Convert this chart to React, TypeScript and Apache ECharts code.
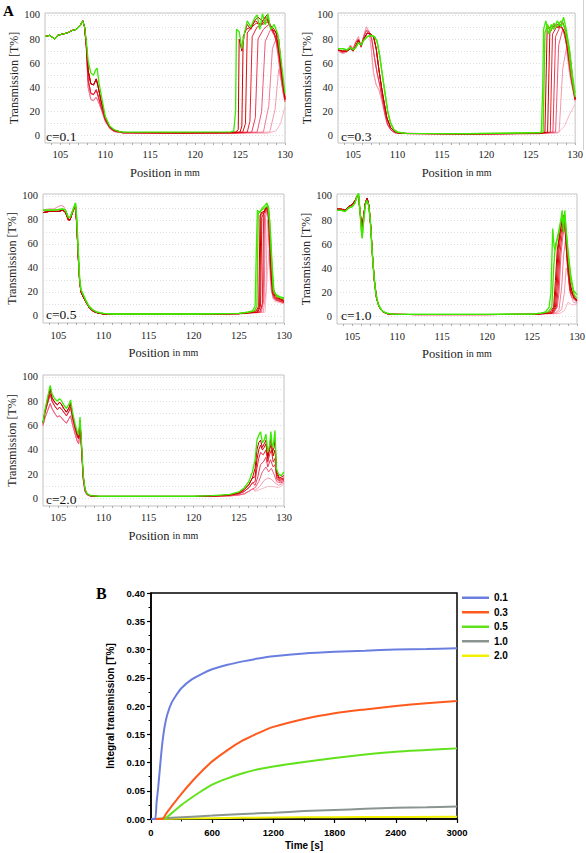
import React, { useEffect, useRef } from "react";
import * as echarts from "echarts";

type Pt = [number, number];

// ---------- Panel A : axis values ----------
const positionMin = 103.3;
const positionMax = 130;
const positionLabels = [105, 110, 115, 120, 125, 130];
const positionMinorTicks = [104, 105, 106, 107, 108, 109, 110, 111, 112, 113, 114, 115, 116, 117, 118, 119, 120, 121, 122, 123, 124, 125, 126, 127, 128, 129, 130];
const transmissionLabels = [0, 20, 40, 60, 80, 100];
const transmissionGridLines = [0, 10, 20, 30, 40, 50, 60, 70, 80, 90, 100];
const concentrationLabels = ["c=0.1", "c=0.3", "c=0.5", "c=1.0", "c=2.0"];

// ---------- c = 0.1 ----------
const c01Lefts: Pt[][] = [
  [[103.3,82],[103.8,83],[104.2,81],[104.4,80],[104.7,83],[105.2,84],[105.8,85],[106.3,87],[106.8,88],[107.2,91],[107.5,95],[107.7,90],[107.9,72],[108.1,40],[108.4,30],[108.7,29],[109,32],[109.3,27],[109.6,21],[110,12],[110.5,6],[111,3.5],[112,2.3],[118,2],[124,2]],
  [[103.3,82],[103.8,83],[104.2,81],[104.4,80],[104.7,83],[105.2,84],[105.8,85],[106.3,87],[106.8,88],[107.2,91],[107.5,95],[107.7,90],[107.9,74],[108.1,46],[108.4,35],[108.7,34],[109,38],[109.25,32],[109.55,24],[110,13],[110.5,6.5],[111,3.8],[112,2.4],[118,2.1],[124,2.2]],
  [[103.3,82],[103.8,83],[104.2,81],[104.4,80],[104.7,83],[105.2,84],[105.8,85],[106.3,87],[106.8,88],[107.2,91],[107.5,95],[107.7,90],[107.9,76],[108.1,54],[108.4,43],[108.7,42],[109,47],[109.2,41],[109.5,30],[110,15],[110.5,7.5],[111,4.5],[112,2.7],[118,2.5],[124,2.7]],
  [[103.3,82],[103.8,83],[104.2,81],[104.4,80],[104.7,83],[105.2,84],[105.8,85],[106.3,87],[106.8,88],[107.2,91],[107.5,95],[107.7,90],[107.9,78],[108.1,62],[108.4,52],[108.7,50],[108.9,54],[109.1,56],[109.3,44],[109.6,32],[110,16],[110.5,8],[111,5],[111.5,3.5],[112,3],[118,3],[124,3.2]],
];
const c01LeftOf = [0, 0, 0, 1, 1, 1, 2, 2, 2, 3];
const c01Rights: Pt[][] = [
  [[128,2],[129,4],[129.5,10],[130,24]],
  [[128.3,3],[128.9,22],[129.3,55],[129.6,45],[130,30]],
  [[127.6,3],[128.2,25],[128.6,72],[129.0,80],[129.4,55],[129.8,35],[130,28]],
  [[126.9,3],[127.4,20],[127.8,78],[128.4,88],[128.9,82],[129.3,65],[129.7,40],[130,28]],
  [[126.3,3],[126.7,15],[127.0,80],[127.6,88],[128.2,92],[128.8,84],[129.3,70],[129.7,45],[130,30]],
  [[125.8,3],[126.1,12],[126.35,82],[126.9,90],[127.5,92],[128.1,94],[128.7,86],[129.2,75],[129.6,50],[130,30]],
  [[125.3,3],[125.6,10],[125.8,85],[126.3,90],[126.8,93],[127.4,92],[128,97],[128.6,88],[129.2,78],[129.6,52],[130,30]],
  [[125,3],[125.2,8],[125.35,82],[125.7,88],[126.2,90],[126.7,95],[127.3,92],[127.8,98],[128.3,92],[128.8,88],[129.3,80],[129.7,50],[130,30]],
  [[124.5,3],[124.8,5],[124.9,80],[125.2,70],[125.5,85],[125.8,92],[126.2,88],[126.6,95],[127,98],[127.5,95],[128,100],[128.5,88],[129,86],[129.5,60],[130,32]],
  [[124.3,4],[124.5,20],[124.6,88],[124.9,86],[125.2,72],[125.5,85],[125.8,95],[126.2,90],[126.6,97],[126.9,100],[127.2,88],[127.5,101],[127.8,92],[128.1,101],[128.4,88],[128.8,92],[129.2,84],[129.6,60],[130,35]],
];

// ---------- c = 0.3 ----------
const c03Lefts: Pt[][] = [
  [[103.3,70],[103.8,68],[104.3,69],[104.7,75],[105.0,72],[105.3,78],[105.6,82],[105.9,73],[106.2,83],[106.5,90],[106.8,86],[107.0,75],[107.3,52],[107.6,42],[107.9,38],[108.2,30],[108.5,20],[108.8,10],[109.2,5],[109.6,3],[110,2],[118,1.5],[126,1.8]],
  [[103.3,71],[103.8,69],[104.3,70],[104.7,74],[105.0,71],[105.3,77],[105.6,80],[105.9,74],[106.2,82],[106.5,87],[106.8,86],[107.1,80],[107.4,65],[107.7,52],[108.0,42],[108.3,30],[108.6,18],[108.9,9],[109.3,4.5],[109.7,2.5],[110.2,2],[118,1.5],[126,1.8]],
  [[103.3,71],[103.8,70],[104.3,70],[104.7,72],[105.0,70],[105.3,74],[105.6,79],[105.9,74],[106.2,80],[106.6,85],[107.0,84],[107.3,82],[107.6,72],[107.9,55],[108.2,40],[108.5,27],[108.8,15],[109.2,7],[109.6,4],[110,2.5],[111,1.8],[118,1.5],[126,2]],
  [[103.3,72],[103.8,72],[104.3,71],[104.7,73],[105.0,71],[105.3,73],[105.6,77],[105.9,75],[106.2,79],[106.6,82],[107.0,83],[107.4,82],[107.7,78],[108.0,66],[108.3,50],[108.6,35],[108.9,20],[109.2,11],[109.6,5],[110,3],[111,2],[118,1.8],[126,2.5]],
];
const c03LeftOf = [0, 0, 1, 1, 2, 2, 2, 3, 3];
const c03Rights: Pt[][] = [
  [[128,2],[128.8,8],[129.4,18],[130,26]],
  [[128.2,3],[128.6,55],[129,72],[129.4,50],[129.8,35],[130,28]],
  [[127.8,3],[128.15,75],[128.6,88],[129,78],[129.4,55],[129.8,38],[130,30]],
  [[127.5,3],[127.8,82],[128.3,90],[128.7,88],[129.1,72],[129.5,50],[130,30]],
  [[127.2,3],[127.45,84],[127.9,90],[128.4,91],[128.8,85],[129.2,68],[129.6,45],[130,30]],
  [[126.9,3],[127.15,85],[127.5,90],[128,92],[128.5,90],[128.9,84],[129.3,65],[129.7,45],[130,30]],
  [[126.6,3],[126.85,88],[127.2,90],[127.6,92],[128.1,89],[128.6,94],[129,85],[129.4,68],[129.8,42],[130,30]],
  [[126.4,3],[126.6,85],[126.9,92],[127.2,86],[127.6,93],[128.0,90],[128.4,95],[128.8,90],[129.2,75],[129.6,50],[130,32]],
  [[126.2,3],[126.35,40],[126.45,88],[126.7,95],[127.0,84],[127.3,92],[127.6,88],[128.0,95],[128.4,90],[128.7,98],[129.0,88],[129.4,70],[129.7,50],[130,35]],
];

// ---------- c = 0.5 ----------
const c05Lefts: Pt[][] = [
  [[103.3,88],[104,89],[104.5,89],[105,91],[105.3,92],[105.6,91],[105.9,86],[106.2,79],[106.4,82],[106.7,88],[106.9,91],[107.05,72],[107.2,48],[107.35,28],[107.5,21],[107.8,16],[108.1,11],[108.4,7],[108.8,4],[109.3,2.5],[110,1.5],[111,1.2],[120,1.2],[125,1.5],[126,2]],
  [[103.3,86],[104,87],[104.5,87],[105,87],[105.5,88],[105.8,86],[106.1,80],[106.3,80],[106.6,87],[106.9,92],[107.05,75],[107.2,50],[107.35,30],[107.5,20],[107.8,15],[108.1,11],[108.4,7],[108.8,4],[109.3,2.5],[110,1.5],[111,1.2],[120,1.2],[125,1.8],[126,2.5]],
  [[103.3,88],[104,88],[104.5,88],[105,88.5],[105.5,89],[105.8,88],[106.1,82],[106.3,82],[106.6,88],[106.9,94],[107.05,80],[107.2,55],[107.35,32],[107.5,22],[107.8,17],[108.1,12],[108.4,8],[108.8,5],[109.3,3],[110,2],[111,1.5],[120,1.5],[125,2],[126,3]],
];
const c05LeftOf = [0, 0, 1, 1, 1, 1, 1, 1, 2, 2];
const c05Rights: Pt[][] = [
  [[127.9,3],[128.2,40],[128.35,55],[128.55,22],[129,12],[130,10]],
  [[127.7,3],[128.0,20],[128.15,80],[128.3,70],[128.5,30],[128.8,14],[130,10]],
  [[127.5,3],[127.8,15],[127.95,82],[128.2,90],[128.4,55],[128.6,22],[129,13],[130,12]],
  [[127.4,3],[127.7,12],[127.85,84],[128.1,89],[128.3,80],[128.5,35],[128.8,15],[130,11]],
  [[127.3,3],[127.6,10],[127.75,85],[128.0,88],[128.25,86],[128.45,45],[128.7,18],[129.2,13],[130,11]],
  [[127.1,3],[127.4,8],[127.55,82],[127.9,88],[128.2,90],[128.4,70],[128.6,30],[129,15],[130,12]],
  [[127.0,3],[127.3,8],[127.45,86],[127.8,87],[128.1,91],[128.35,84],[128.55,42],[128.8,18],[130,12]],
  [[126.9,4],[127.2,8],[127.35,84],[127.7,86],[128.0,90],[128.3,88],[128.5,60],[128.7,25],[129.2,15],[130,13]],
  [[126.7,4],[127.0,8],[127.15,85],[127.5,88],[127.9,90],[128.2,92],[128.4,80],[128.6,50],[128.8,22],[129.2,16],[130,14]],
  [[126.5,4],[126.8,8],[126.95,60],[127.05,88],[127.3,86],[127.6,90],[127.9,92],[128.1,94],[128.3,90],[128.5,70],[128.7,40],[128.9,20],[129.1,18],[129.5,16],[130,15]],
];

// ---------- c = 1.0 ----------
const c10Lefts: Pt[][] = [
  [[103.3,88],[103.8,88],[104.2,88],[104.6,90],[105,92],[105.3,95],[105.55,99],[105.7,99],[105.85,86],[106.0,78],[106.1,76],[106.25,84],[106.45,93],[106.65,96],[106.9,90],[107.1,70],[107.3,45],[107.5,28],[107.75,14],[108,8],[108.4,4],[108.9,2.5],[109.5,2],[112,1.8],[120,1.8],[125,2],[126,2.3]],
  [[103.3,89],[103.8,89],[104.2,88],[104.6,91],[105,93],[105.3,96],[105.55,100],[105.7,100],[105.85,88],[106.0,78],[106.1,74],[106.25,82],[106.45,94],[106.65,98],[106.85,92],[107.05,75],[107.25,50],[107.45,30],[107.7,15],[108,8],[108.4,4],[108.9,2.5],[109.5,2],[112,1.8],[120,1.8],[125,2],[126,2.5]],
  [[103.3,88],[103.8,88],[104.2,87],[104.6,90],[105,91],[105.3,94],[105.55,100],[105.7,102],[105.85,88],[106.0,72],[106.1,65],[106.25,78],[106.45,92],[106.6,96],[106.8,93],[107.0,80],[107.2,55],[107.4,35],[107.6,20],[107.9,10],[108.3,5],[108.8,3],[109.5,2.2],[112,2],[120,2],[125,2.2],[126,3]],
];
const c10LeftOf = [0, 0, 0, 1, 1, 1, 1, 1, 2, 2];
const c10Rights: Pt[][] = [
  [[128.0,2.5],[128.6,5],[129.0,12],[129.4,10],[130,10]],
  [[127.8,3],[128.3,6],[128.6,20],[128.8,40],[129.0,38],[129.2,20],[129.6,12],[130,11]],
  [[127.6,3],[128.0,6],[128.3,25],[128.5,50],[128.7,62],[128.9,50],[129.1,30],[129.4,16],[130,12]],
  [[127.4,3],[127.8,8],[128.0,20],[128.2,50],[128.4,65],[128.6,75],[128.8,60],[129.0,35],[129.3,18],[130,12]],
  [[127.3,3],[127.7,8],[127.9,22],[128.1,52],[128.3,66],[128.5,78],[128.7,70],[128.9,45],[129.2,22],[130,13]],
  [[127.2,3],[127.6,8],[127.8,25],[128.0,55],[128.2,68],[128.4,76],[128.6,80],[128.8,62],[129.0,40],[129.3,20],[130,13]],
  [[127.1,3],[127.5,8],[127.7,28],[127.9,56],[128.1,68],[128.3,78],[128.5,84],[128.7,74],[128.9,50],[129.2,28],[129.6,16],[130,14]],
  [[127.0,4],[127.4,8],[127.6,30],[127.8,55],[128.0,65],[128.2,75],[128.4,80],[128.6,82],[128.8,68],[129.0,45],[129.3,25],[129.7,15],[130,14]],
  [[126.8,4],[127.2,8],[127.4,40],[127.6,60],[127.9,66],[128.1,75],[128.3,82],[128.45,78],[128.6,85],[128.8,72],[129.0,52],[129.3,30],[129.7,18],[130,15]],
  [[126.5,4],[126.9,8],[127.1,20],[127.3,73],[127.45,58],[127.6,55],[127.8,65],[128.0,72],[128.2,80],[128.35,88],[128.5,70],[128.65,88],[128.8,70],[129.0,55],[129.3,35],[129.6,22],[130,18]],
];

// ---------- c = 2.0 ----------
const c20Lefts: Pt[][] = [
  [[103.3,60],[103.5,66],[103.8,72],[104.1,78],[104.3,74],[104.6,70],[104.9,67],[105.1,68],[105.3,67],[105.6,64],[105.9,62],[106.2,66],[106.35,68],[106.6,60],[106.9,52],[107.1,47],[107.25,45],[107.4,55],[107.55,42],[107.75,16],[107.95,6],[108.2,3],[108.6,2],[109.5,1.8],[115,1.8],[120,1.8],[122,1.9],[123,2],[124,2.3],[125,3],[125.6,4],[126.1,6],[126.5,8]],
  [[103.3,62],[103.5,70],[103.8,78],[104.1,86],[104.3,80],[104.6,76],[104.9,73],[105.1,75],[105.3,74],[105.6,71],[105.9,68],[106.2,72],[106.35,75],[106.6,65],[106.9,56],[107.1,51],[107.25,49],[107.4,62],[107.55,45],[107.75,18],[107.95,7],[108.2,3.5],[108.6,2.2],[109.5,1.8],[115,1.8],[120,1.8],[122,2],[123,2.3],[124,2.8],[125,4],[125.6,6],[126.1,9],[126.5,13]],
  [[103.3,62],[103.5,71],[103.8,81],[104.1,90],[104.3,83],[104.6,79],[104.9,77],[105.1,79],[105.3,78],[105.6,74],[105.9,71],[106.2,75],[106.35,78],[106.6,68],[106.9,58],[107.1,53],[107.25,50],[107.4,64],[107.55,46],[107.75,19],[107.95,7.5],[108.2,3.8],[108.6,2.3],[109.5,1.9],[115,1.9],[120,1.9],[122,2.2],[123,2.6],[124,3.1],[125,4.7],[125.6,7.5],[126.1,11.5],[126.5,17]],
  [[103.3,62],[103.5,72],[103.8,83],[104.1,93],[104.3,86],[104.6,82],[104.9,80],[105.1,82],[105.3,81],[105.6,77],[105.9,74],[106.2,78],[106.35,81],[106.6,70],[106.9,60],[107.1,55],[107.25,52],[107.4,67],[107.55,48],[107.75,20],[107.95,8],[108.2,4],[108.6,2.5],[109.5,2],[115,2],[120,2],[122,2.5],[123,3],[124,3.5],[125,5.5],[125.6,9],[126.1,14],[126.5,22]],
];
const c20LeftOf = [0, 0, 0, 1, 1, 2, 2, 3];
const c20Rights: Pt[][] = [
  [[126.8,6],[127.5,8],[128.2,10],[128.8,10],[129.4,9],[130,12]],
  [[126.8,7],[127.3,10],[127.8,15],[128.2,17],[128.6,16],[129.0,13],[129.4,11],[130,13]],
  [[126.8,9],[127.2,14],[127.6,22],[128.0,26],[128.3,22],[128.6,25],[128.9,20],[129.2,14],[129.6,13],[130,14]],
  [[126.8,11],[127.1,18],[127.4,28],[127.7,30],[128.0,34],[128.2,26],[128.5,32],[128.8,26],[129.0,28],[129.2,16],[129.6,14],[130,15]],
  [[126.8,14],[127.0,25],[127.2,33],[127.4,38],[127.7,36],[128.0,40],[128.2,30],[128.4,36],[128.6,40],[128.8,30],[129.0,33],[129.2,18],[129.5,15],[130,16]],
  [[126.8,18],[127.0,32],[127.2,40],[127.4,44],[127.6,40],[127.8,42],[128.0,45],[128.2,33],[128.4,40],[128.6,45],[128.8,35],[129.0,40],[129.2,20],[129.5,16],[130,17]],
  [[126.8,25],[127.0,40],[127.2,46],[127.4,48],[127.6,42],[127.8,45],[128.0,48],[128.2,35],[128.4,42],[128.55,50],[128.7,38],[128.9,42],[129.0,48],[129.2,22],[129.5,17],[130,19]],
  [[126.8,32],[127.0,48],[127.2,52],[127.4,55],[127.6,46],[127.8,48],[128.0,53],[128.2,38],[128.4,44],[128.55,55],[128.7,42],[128.85,46],[129.0,56],[129.15,25],[129.4,20],[129.7,19],[130,22]],
];

// ---------- Panel B ----------
const bNames = ["0.1", "0.3", "0.5", "1.0", "2.0"];
const b01: Pt[] = [[0,0],[38,0],[55,0.03],[70,0.055],[85,0.085],[100,0.115],[115,0.14],[135,0.165],[160,0.185],[200,0.205],[250,0.22],[300,0.232],[400,0.247],[500,0.257],[600,0.265],[750,0.273],[900,0.279],[1050,0.284],[1200,0.288],[1500,0.293],[1800,0.296],[2100,0.298],[2400,0.300],[2700,0.301],[3000,0.302]];
const b03: Pt[] = [[0,0],[110,0],[150,0.01],[200,0.022],[300,0.045],[400,0.066],[500,0.085],[600,0.102],[750,0.122],[900,0.139],[1050,0.152],[1200,0.163],[1500,0.177],[1800,0.187],[2100,0.194],[2400,0.2],[2700,0.205],[3000,0.209]];
const b05: Pt[] = [[0,0],[120,0],[200,0.01],[300,0.025],[400,0.038],[500,0.05],[600,0.061],[750,0.072],[900,0.081],[1050,0.088],[1200,0.093],[1500,0.101],[1800,0.108],[2100,0.114],[2400,0.119],[2700,0.122],[3000,0.125]];
const b10: Pt[] = [[0,0],[100,0.001],[300,0.003],[600,0.006],[900,0.009],[1200,0.011],[1500,0.014],[1800,0.016],[2100,0.018],[2400,0.02],[2700,0.021],[3000,0.022]];
const b20: Pt[] = [[0,0],[300,0.001],[900,0.002],[1500,0.003],[2100,0.0035],[3000,0.004]];
const bSeriesData = [b01, b03, b05, b10, b20];

// ---------- styles / layout ----------
const bColors = ["#6a7ee0", "#ff5a1e", "#62e21c", "#8a9590", "#f2f200"];
const redScale = ["#f9b8c6", "#f598ad", "#f27a94", "#ee5a78", "#ea3a55", "#e52233", "#df1010", "#d40000", "#c40000"];
const greenScale = ["#5cd400", "#3aea00"];
const serif = "Liberation Serif";
const sans = "Liberation Sans";

// labelsByGraphic: middle-row panels carry their position labels as text elements
const panelLayouts = [
  { left: 45, top: 13, width: 240, height: 130, cx: 46, cy: 136, greens: 1, labelsByGraphic: false },
  { left: 338, top: 13, width: 239, height: 130, cx: 341, cy: 136, greens: 2, labelsByGraphic: false },
  { left: 43, top: 194, width: 241, height: 129, cx: 46, cy: 314, greens: 2, labelsByGraphic: true },
  { left: 337, top: 194, width: 240, height: 130, cx: 341, cy: 315, greens: 2, labelsByGraphic: true },
  { left: 43, top: 375, width: 241, height: 131, cx: 46, cy: 499, greens: 1, labelsByGraphic: false },
];

const panelData = [
  { lefts: c01Lefts, leftOf: c01LeftOf, rights: c01Rights },
  { lefts: c03Lefts, leftOf: c03LeftOf, rights: c03Rights },
  { lefts: c05Lefts, leftOf: c05LeftOf, rights: c05Rights },
  { lefts: c10Lefts, leftOf: c10LeftOf, rights: c10Rights },
  { lefts: c20Lefts, leftOf: c20LeftOf, rights: c20Rights },
];

function profileColors(n: number, nGreen: number): string[] {
  const nRed = n - nGreen;
  const reds: string[] = [];
  for (let i = 0; i < nRed; i++) {
    const k = nRed === 1 ? redScale.length - 1 : Math.round((i * (redScale.length - 1)) / (nRed - 1));
    reds.push(redScale[k]);
  }
  const greens = greenScale.slice(greenScale.length - nGreen);
  return [...reds, ...greens];
}

function buildOption() {
  const grids: any[] = [];
  const xAxes: any[] = [];
  const yAxes: any[] = [];
  const series: any[] = [];
  const graphics: any[] = [];

  panelLayouts.forEach((lay, pi) => {
    grids.push({
      left: lay.left, top: lay.top, width: lay.width, height: lay.height,
      show: true, borderColor: "#c2c2c2", borderWidth: 1,
      containLabel: false,
    });
    xAxes.push({
      gridIndex: pi, type: "value", min: positionMin, max: positionMax, position: "bottom",
      axisLine: { show: false, onZero: false },
      axisTick: { show: true, customValues: positionMinorTicks, length: 2, lineStyle: { color: "#9a9a9a", width: 0.8 } },
      axisLabel: { show: !lay.labelsByGraphic, customValues: positionLabels, hideOverlap: false, margin: 6, fontFamily: serif, fontSize: 10.5, color: "#222" },
      splitLine: { show: false },
      name: "{a|Position} {b|in mm}", nameLocation: "middle", nameGap: 23, nameMoveOverlap: false,
      nameTextStyle: {
        fontFamily: serif, fontSize: 12, color: "#222",
        rich: { a: { fontFamily: serif, fontSize: 12.5, color: "#222" }, b: { fontFamily: serif, fontSize: 10, color: "#222" } },
      },
    });
    yAxes.push({
      gridIndex: pi, type: "value", min: -6, max: 101.5, position: "left",
      axisLine: { show: false, onZero: false },
      axisTick: { show: false, customValues: transmissionGridLines },
      axisLabel: { customValues: transmissionLabels, hideOverlap: false, margin: 5, fontFamily: serif, fontSize: 10.5, color: "#222" },
      splitLine: { show: true, lineStyle: { color: "#d6d6d6", type: [1, 2], width: 0.8 } },
      name: "Transmission [T%]", nameLocation: "middle", nameGap: 23,
      nameTextStyle: { fontFamily: serif, fontSize: 12, color: "#222" },
    });
    const pd = panelData[pi];
    const cols = profileColors(pd.rights.length, lay.greens);
    pd.rights.forEach((r, ri) => {
      const left = pd.lefts[pd.leftOf[ri]];
      const data = [...left.filter((p) => p[0] < r[0][0]), ...r];
      const isGreen = ri >= pd.rights.length - lay.greens;
      series.push({
        type: "line", name: `A${pi}-${ri}`, xAxisIndex: pi, yAxisIndex: pi,
        data, showSymbol: false, symbol: "none", silent: true, clip: true,
        color: cols[ri],
        lineStyle: { width: isGreen ? 1.3 : 1, color: cols[ri] },
        z: 2,
      });
    });
    graphics.push({
      type: "text", x: lay.cx, y: lay.cy, z: 10,
      style: { text: concentrationLabels[pi], fontFamily: serif, fontSize: 13.5, fill: "#111", align: "left", verticalAlign: "middle" },
    });
    if (lay.labelsByGraphic) {
      positionLabels.forEach((v) => {
        graphics.push({
          type: "text", z: 1000, zlevel: 0,
          x: lay.left + ((v - positionMin) / (positionMax - positionMin)) * lay.width,
          y: lay.top + lay.height + 12,
          style: { text: String(v), fontFamily: serif, fontSize: 10.5, fill: "#222", align: "center", verticalAlign: "middle" },
        });
      });
    }
  });

  // Panel B
  const bi = panelLayouts.length;
  grids.push({
    left: 151, top: 593, width: 306, height: 226,
    show: true, borderColor: "#000", borderWidth: 1.5,
    containLabel: false,
  });
  xAxes.push({
    gridIndex: bi, type: "value", min: 0, max: 3000, interval: 600, position: "bottom",
    axisLine: { onZero: false, lineStyle: { color: "#000", width: 1.5 } },
    axisTick: { length: 4, lineStyle: { color: "#000", width: 1.2 } },
    minorTick: { show: true, splitNumber: 2, length: 2.5, lineStyle: { color: "#000", width: 1 } },
    axisLabel: { fontFamily: sans, fontWeight: "bold", fontSize: 9.5, color: "#000", margin: 8, formatter: (v: number) => String(v) },
    splitLine: { show: false },
    name: "Time [s]", nameLocation: "middle", nameGap: 21,
    nameTextStyle: { fontFamily: sans, fontWeight: "bold", fontSize: 10, color: "#000" },
  });
  yAxes.push({
    gridIndex: bi, type: "value", min: 0, max: 0.4, interval: 0.05, position: "left",
    axisLine: { onZero: false, lineStyle: { color: "#000", width: 1.5 } },
    axisTick: { length: 4, lineStyle: { color: "#000", width: 1.2 } },
    minorTick: { show: true, splitNumber: 2, length: 2.5, lineStyle: { color: "#000", width: 1 } },
    axisLabel: { fontFamily: sans, fontWeight: "bold", fontSize: 9.5, color: "#000", margin: 6, formatter: (v: number) => v.toFixed(2) },
    splitLine: { show: false },
    name: "Integral transmission [T%]", nameLocation: "middle", nameGap: 27,
    nameTextStyle: { fontFamily: sans, fontWeight: "bold", fontSize: 10, color: "#000" },
  });
  bNames.forEach((n, i) => {
    series.push({
      type: "line", name: n, xAxisIndex: bi, yAxisIndex: bi,
      data: bSeriesData[i], showSymbol: false, symbol: "none", smooth: 0.3,
      color: bColors[i], itemStyle: { color: bColors[i] },
      lineStyle: { width: 2, color: bColors[i] }, z: 8 - i,
    });
  });

  graphics.push(
    { type: "text", x: 3, y: 3, style: { text: "A", fontFamily: serif, fontWeight: "bold", fontSize: 15, fill: "#000" } },
    { type: "text", x: 96, y: 585, style: { text: "B", fontFamily: serif, fontWeight: "bold", fontSize: 16, fill: "#000" } },
    { type: "line", shape: { x1: 583.5, y1: 0, x2: 583.5, y2: 150 }, style: { stroke: "#d0d0d0", lineWidth: 1 } },
  );

  return {
    animation: false,
    backgroundColor: "#fff",
    textStyle: { fontFamily: serif },
    grid: grids,
    xAxis: xAxes,
    yAxis: yAxes,
    series,
    graphic: graphics,
    legend: {
      data: bNames, left: 462, top: 592, padding: 0, orient: "vertical", icon: "rect",
      itemWidth: 27, itemHeight: 2.5, itemGap: 3, selectedMode: false,
      textStyle: { fontFamily: sans, fontWeight: "bold", fontSize: 10, color: "#000", lineHeight: 11.5 },
    },
  };
}

export default function App() {
  const ref = useRef<HTMLDivElement>(null);
  useEffect(() => {
    if (!ref.current) return;
    const chart = echarts.init(ref.current, undefined, { renderer: "svg" });
    chart.setOption(buildOption() as any);
    return () => chart.dispose();
  }, []);
  return (
    <div
      ref={ref}
      style={{ position: "absolute", left: 0, top: 0, width: 586, height: 853, background: "#fff" }}
    />
  );
}
